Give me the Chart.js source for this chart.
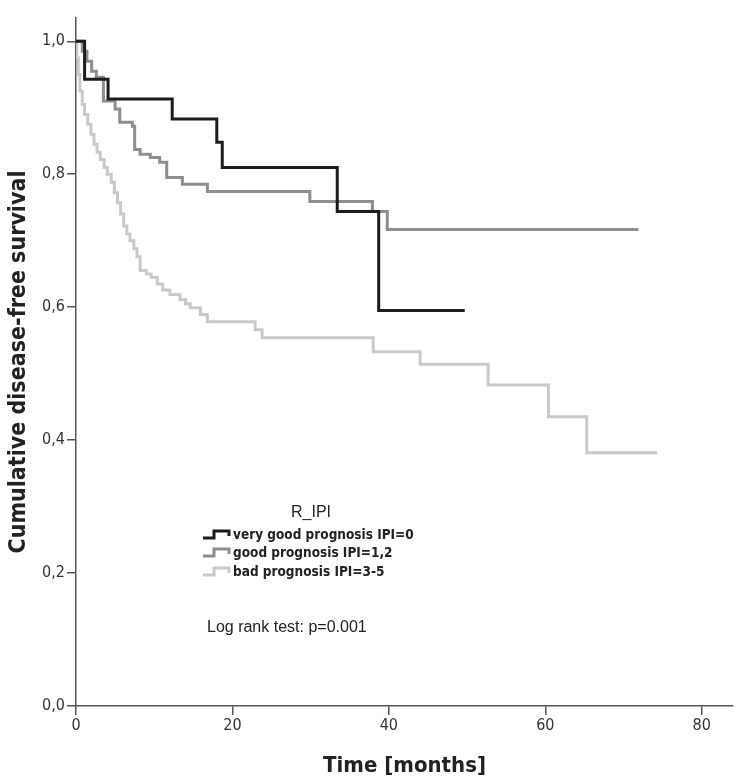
<!DOCTYPE html>
<html>
<head>
<meta charset="utf-8">
<script src="https://cdn.jsdelivr.net/npm/chart.js@4.4.1/dist/chart.umd.min.js"></script>
<style>
html, body { margin: 0; padding: 0; background: #fff; }
#wrap { width: 738px; height: 782px; }
</style>
</head>
<body>
<div id="wrap"><canvas id="kmChart" width="738" height="782"></canvas></div>
<script>
// Kaplan-Meier data (time in months, survival after each event)
const seriesNames = ['very good prognosis IPI=0', 'good prognosis IPI=1,2', 'bad prognosis IPI=3-5'];

const timeVeryGood = [0, 1.1, 4.1, 12.3, 18.0, 18.7, 33.4, 38.7, 49.7];
const survVeryGood = [1.0, 0.943, 0.913, 0.883, 0.848, 0.810, 0.744, 0.595, 0.595];

const timeGood = [0, 0.8, 1.4, 2.0, 2.6, 3.5, 5.0, 5.6, 7.2, 7.5, 8.2, 9.5, 10.7, 11.6, 13.6, 16.8, 29.9, 37.9, 39.8, 71.9];
const survGood = [1.0, 0.985, 0.97, 0.955, 0.946, 0.91, 0.898, 0.878, 0.872, 0.837, 0.83, 0.825, 0.818, 0.795, 0.785, 0.774, 0.759, 0.744, 0.717, 0.717];

const timeBad = [0, 0.1, 0.3, 0.5, 0.8, 1.1, 1.5, 1.9, 2.3, 2.7, 3.1, 3.6, 4.0, 4.5, 4.9, 5.3, 5.7, 6.1, 6.5, 6.9, 7.4, 7.8, 8.2, 9.0, 9.6, 10.4, 11.1, 12.0, 13.3, 14.0, 14.6, 15.9, 16.8, 22.9, 23.8, 38.0, 44.0, 52.7, 60.4, 65.3, 74.3];
const survBad = [1.0, 0.975, 0.95, 0.925, 0.905, 0.89, 0.875, 0.86, 0.845, 0.833, 0.822, 0.81, 0.80, 0.788, 0.772, 0.757, 0.74, 0.722, 0.71, 0.70, 0.688, 0.676, 0.655, 0.65, 0.645, 0.635, 0.626, 0.619, 0.611, 0.605, 0.599, 0.589, 0.578, 0.566, 0.554, 0.533, 0.514, 0.483, 0.435, 0.381, 0.381];

const xTicks = [0, 20, 40, 60, 80];
const yTicks = [0, 0.2, 0.4, 0.6, 0.8, 1.0];

const lineColors = ['#1c1c1c', '#8e8e8e', '#c9c9c9'];
const narrow = '"Liberation Sans Narrow", "DejaVu Sans Condensed", "Liberation Sans", Arial, sans-serif';
const regular = '"Liberation Sans", Arial, sans-serif';

function toPoints(t, s) {
    return t.map((v, i) => ({ x: v, y: s[i] }));
}

// legend + log rank note drawn on the canvas
const kmLegend = {
    id: 'kmLegend',
    afterDraw(chart) {
        const ctx = chart.ctx;
        ctx.save();
        ctx.fillStyle = '#222';
        ctx.textBaseline = 'middle';
        ctx.font = '16px ' + regular;
        ctx.textAlign = 'center';
        ctx.fillText('R_IPI', 311, 513);

        ctx.textAlign = 'left';
        const rows = [535, 553, 572];
        rows.forEach((y, i) => {
            ctx.strokeStyle = lineColors[i];
            ctx.lineWidth = 3;
            ctx.beginPath();
            ctx.moveTo(203, y + 3);
            ctx.lineTo(214, y + 3);
            ctx.lineTo(214, y - 4);
            ctx.lineTo(229, y - 4);
            ctx.lineTo(229, y + 1);
            ctx.stroke();
            ctx.fillStyle = '#222';
            ctx.font = 'bold 13.5px ' + narrow;
            ctx.fillText(seriesNames[i], 233, y);
        });

        ctx.font = '16px ' + regular;
        ctx.fillText('Log rank test: p=0.001', 207, 628);
        ctx.restore();
    }
};

const kmCtx = document.getElementById('kmChart').getContext('2d');
new Chart(kmCtx, {
type: 'line',
data: {
datasets: [
    {
        label: seriesNames[0],
        data: toPoints(timeVeryGood, survVeryGood),
        borderColor: lineColors[0],
        borderWidth: 3,
        stepped: 'before',
        pointRadius: 0,
        fill: false
    },
    {
        label: seriesNames[1],
        data: toPoints(timeGood, survGood),
        borderColor: lineColors[1],
        borderWidth: 3,
        stepped: 'before',
        pointRadius: 0,
        fill: false
    },
    {
        label: seriesNames[2],
        data: toPoints(timeBad, survBad),
        borderColor: lineColors[2],
        borderWidth: 3,
        stepped: 'before',
        pointRadius: 0,
        fill: false
    }
]
},
options: {
responsive: false,
animation: false,
layout: { padding: { top: 18, right: 5, left: 0, bottom: 0 } },
plugins: {
    legend: { display: false },
    tooltip: { enabled: false }
},
scales: {
    x: {
    type: 'linear',
    min: 0,
    max: 84,
    afterBuildTicks: s => { s.ticks = xTicks.map(v => ({ value: v })); },
    afterFit: s => { s.height = 76; },
    border: { display: true, color: '#555', width: 1.5 },
    grid: { drawOnChartArea: false, drawTicks: true, tickLength: 9, color: '#555', lineWidth: 1.5 },
    ticks: { color: '#333', font: { family: narrow, size: 16 }, padding: 1, maxRotation: 0 },
    title: {
        display: true,
        text: 'Time [months]',
        color: '#222',
        font: { family: narrow, size: 22, weight: 'bold' },
        padding: { top: 0, bottom: 3 }
    }
    },
    y: {
    type: 'linear',
    min: 0,
    max: 1.035,
    afterBuildTicks: s => { s.ticks = yTicks.map(v => ({ value: v })); },
    afterFit: s => { s.width = 76; },
    border: { display: true, color: '#555', width: 1.5 },
    grid: { drawOnChartArea: false, drawTicks: true, tickLength: 9, color: '#555', lineWidth: 1.5 },
    ticks: {
        color: '#333',
        font: { family: narrow, size: 16 },
        padding: 2,
        callback: v => v.toFixed(1).replace('.', ',')
    },
    title: {
        display: true,
        text: 'Cumulative disease-free survival',
        color: '#222',
        font: { family: narrow, size: 23, weight: 'bold' },
        padding: { top: 5, bottom: 0 }
    }
    }
}
},
plugins: [kmLegend]
});
</script>
</body>
</html>
